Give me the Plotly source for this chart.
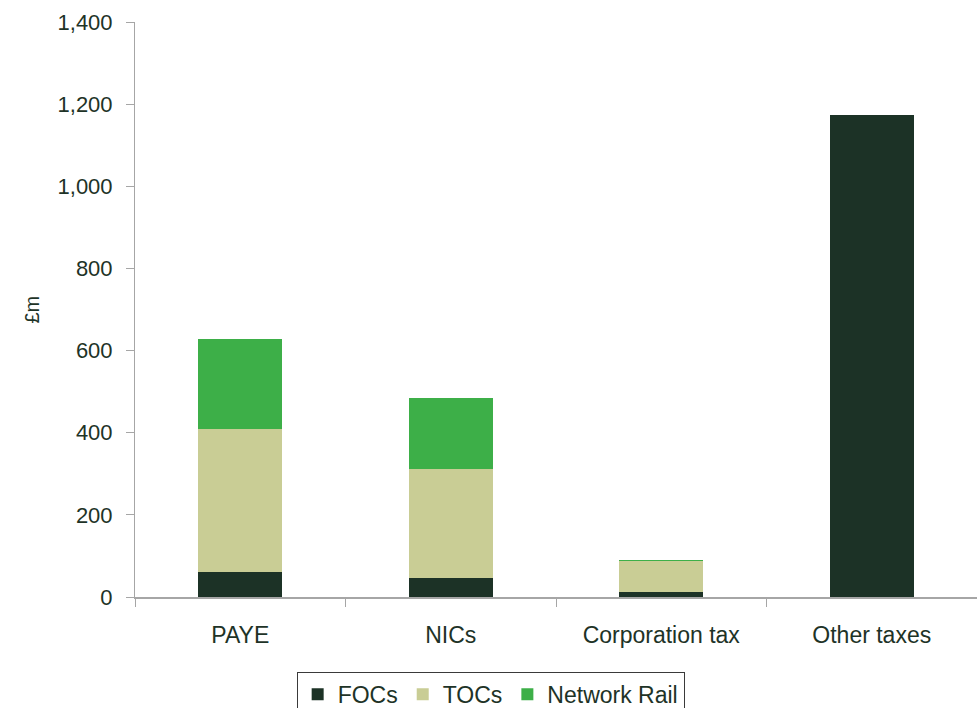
import plotly.graph_objects as go

categories = ["PAYE", "NICs", "Corporation tax", "Other taxes"]
focs = [61, 46, 12, 1174]
tocs = [348, 266, 76, 0]
network_rail = [219, 173, 2, 0]

text_color = "#1e3327"
axis_color = "#a6a6a6"

fig = go.Figure()
for name, vals, color in [
    ("FOCs", focs, "#1c3226"),
    ("TOCs", tocs, "#c9cd95"),
    ("Network Rail", network_rail, "#3daf48"),
]:
    fig.add_trace(go.Bar(x=categories, y=vals, name=name, marker={"color": color, "line": {"width": 0}}))

# figure is taller than the window so the legend box runs off the bottom edge, as in the original
fig.update_layout(
    barmode="stack",
    bargap=0.6,
    width=977,
    height=730,
    plot_bgcolor="white",
    paper_bgcolor="white",
    font={"family": "Liberation Sans, Arial, sans-serif", "size": 23, "color": text_color},
    margin={"l": 135, "r": 0, "t": 22, "b": 133},
    xaxis={
        "automargin": False,
        "showline": True,
        "linecolor": axis_color,
        "linewidth": 2,
        "ticks": "outside",
        "tickson": "boundaries",
        "ticklen": 8,
        "tickcolor": axis_color,
        "showgrid": False,
        "tickfont": {"size": 23},
        "ticklabelstandoff": 16,
    },
    yaxis={
        "automargin": False,
        "range": [0, 1400],
        "dtick": 200,
        "tickformat": ",",
        "showline": True,
        "linecolor": axis_color,
        "linewidth": 1,
        "ticks": "outside",
        "ticklen": 8,
        "tickcolor": axis_color,
        "showgrid": False,
        "zeroline": False,
        "tickfont": {"size": 22},
        "ticklabelstandoff": 9,
    },
    legend={
        "orientation": "h",
        "x": 0.192,
        "xanchor": "left",
        "y": -0.13,
        "yanchor": "top",
        "bordercolor": "#3a3a3a",
        "borderwidth": 1,
        "font": {"size": 23},
        "traceorder": "normal",
        "itemwidth": 30,
    },
    annotations=[
        {
            "text": "£m",
            "xref": "paper",
            "yref": "paper",
            "x": -0.1235,
            "xanchor": "center",
            "y": 0.5,
            "showarrow": False,
            "textangle": -90,
            "font": {"size": 20},
        }
    ],
)

fig.write_html(
    "out.html",
    config={"displayModeBar": False},
    post_script="document.body.style.margin='0';document.body.style.overflow='hidden';",
)
